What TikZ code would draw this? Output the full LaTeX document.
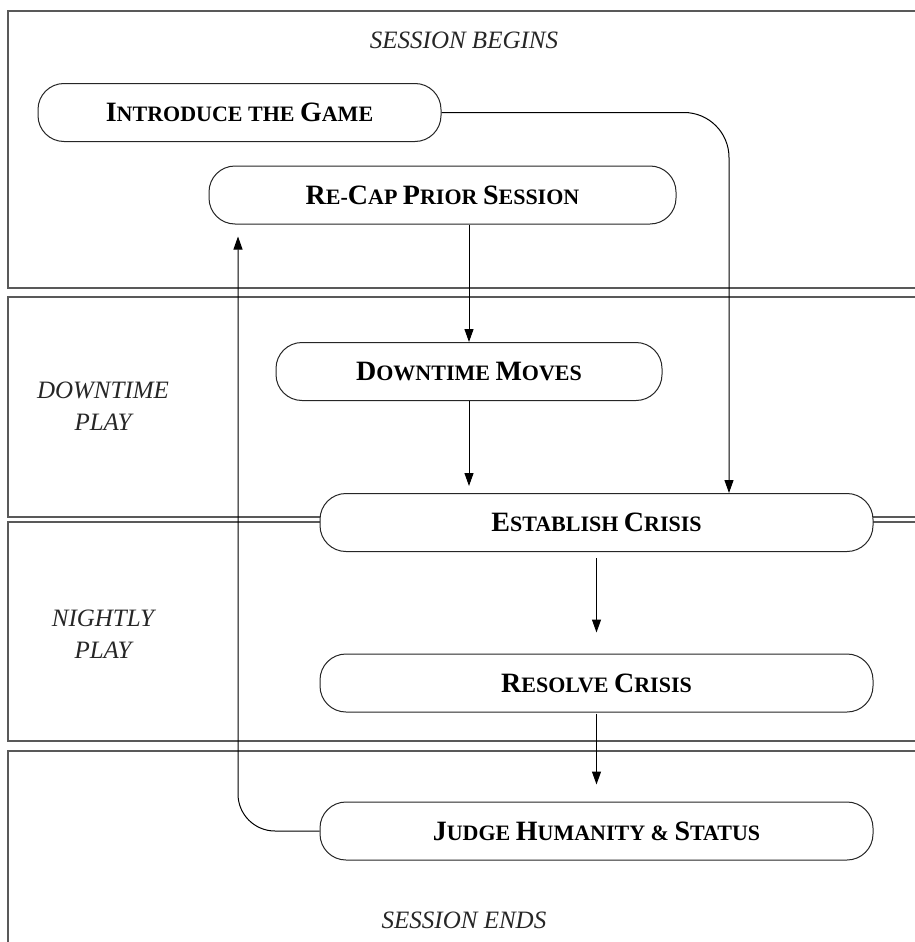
\documentclass[tikz,border=0pt]{standalone}
\usepackage{fontspec}
\setmainfont{Liberation Serif}
\usetikzlibrary{arrows.meta,calc}
\newcommand\Bg[1]{{\fontsize{28}{28}\selectfont #1}}
\newcommand\Sm[1]{{\fontsize{22}{22}\selectfont #1}}
\tikzset{
 lane/.style={draw=black!65, line width=1.2pt},
 stepbox/.style={draw=black!85, line width=1pt, rounded corners=26pt, fill=white, minimum height=58pt, inner sep=0pt, font=\bfseries},
 lanelabel/.style={font=\itshape\fontsize{25}{32}\selectfont, text=black!85, align=center},
 flow/.style={draw=black, line width=1pt, -{Triangle[length=13pt,width=9pt]}},
}
\begin{document}
\begin{tikzpicture}[x=1pt,y=-1pt]
\useasboundingbox (0,0) rectangle (915,942);
\clip (0,0) rectangle (915,942);
% lanes
\draw[lane] (8,11) rectangle (940,288);
\draw[lane] (8,297) rectangle (940,517);
\draw[lane] (8,522) rectangle (940,741);
\draw[lane] (8,751) rectangle (940,960);
% lane labels
\node[lanelabel] (lbegin) at (464,40) {SESSION BEGINS};
\node[lanelabel] (ldown) at (103,406) {DOWNTIME\\PLAY};
\node[lanelabel] (lnight) at (103,634) {NIGHTLY\\PLAY};
\node[lanelabel] (lend) at (464,920) {SESSION ENDS};
% steps
\node[stepbox, minimum width=403pt] (intro) at (239.5,112.5) {\Bg{I}\Sm{NTRODUCE THE }\Bg{G}\Sm{AME}};
\node[stepbox, minimum width=467pt] (recap) at (442.5,195) {\Bg{R}\Sm{E-}\Bg{C}\Sm{AP }\Bg{P}\Sm{RIOR }\Bg{S}\Sm{ESSION}};
\node[stepbox, minimum width=386pt] (down) at (469,371.5) {\Bg{D}\Sm{OWNTIME }\Bg{M}\Sm{OVES}};
\node[stepbox, minimum width=553pt] (est) at (596.5,522.5) {\Bg{E}\Sm{STABLISH }\Bg{C}\Sm{RISIS}};
\node[stepbox, minimum width=553pt] (res) at (596.5,683) {\Bg{R}\Sm{ESOLVE }\Bg{C}\Sm{RISIS}};
\node[stepbox, minimum width=553pt] (judge) at (596.5,831) {\Bg{J}\Sm{UDGE }\Bg{H}\Sm{UMANITY \& }\Bg{S}\Sm{TATUS}};
% connectors
\draw[flow, rounded corners=45pt] (intro.east) -| ([xshift=132.5pt]est.north);
\draw[flow] (recap.south -| down.north) -- (down.north);
\draw[flow, shorten >=7pt] (down.south) -- (down.south |- est.north);
\draw[flow, shorten <=6pt, shorten >=21pt] (est.south) -- (res.north);
\draw[flow, shorten <=1pt, shorten >=17pt] (res.south) -- (judge.north);
\draw[flow, rounded corners=37pt] (judge.west) -| ([xshift=-204.5pt,yshift=-12pt]recap.south);
\end{tikzpicture}
\end{document}
